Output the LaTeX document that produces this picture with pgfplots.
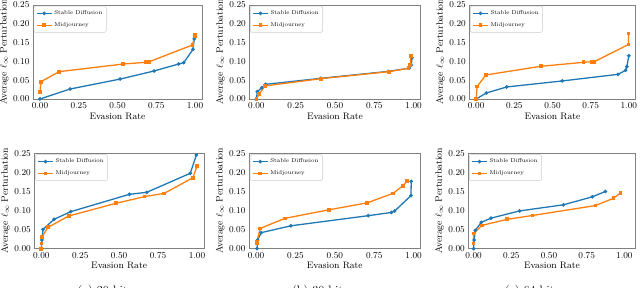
\documentclass[border=0pt]{standalone}
\usepackage{pgfplots}
\pgfplotsset{compat=1.18}
\definecolor{mblue}{HTML}{1F77B4}
\definecolor{morange}{HTML}{FF7F0E}
\definecolor{framegray}{HTML}{808080}
\pgfplotsset{
  myax/.style={
    scale only axis,
    xmin=-0.045, xmax=1.045, ymin=0, ymax=0.25,
    xtick={0,0.25,0.5,0.75,1},
    ytick={0,0.05,0.1,0.15,0.2,0.25},
    major tick length=0pt,
    axis line style={framegray, line width=0.8pt},
    tick label style={font=\fontsize{9.4}{10}\selectfont},
    label style={font=\fontsize{9.4}{10}\selectfont},
    xticklabel style={/pgf/number format/.cd, fixed, fixed zerofill, precision=2},
    yticklabel style={/pgf/number format/.cd, fixed, fixed zerofill, precision=2},
    scaled y ticks=false, scaled x ticks=false,
    xlabel={Evasion Rate},
    ylabel={Average $\ell_\infty$ Perturbation},
    ylabel style={inner sep=1pt},
    xlabel style={inner sep=1pt},
    legend style={at={(0.005,0.99)}, anchor=north west, draw=black!20, rounded corners=1.5pt,
      font=\fontsize{5.6}{6}\selectfont, inner xsep=2pt, inner ysep=2.5pt, row sep=2.4pt, fill=white},
    legend cell align=left,
    legend image code/.code={
      \draw[mark repeat=2,mark phase=2,#1] plot coordinates {(0pt,0pt) (7.5pt,0pt) (15pt,0pt)};
    },
  },
  sd/.style={color=mblue, line width=1.3pt, mark=*, mark size=1.1pt},
  mj/.style={color=morange, line width=1.3pt, mark=square*, mark size=1.2pt},
}
\begin{document}
\begin{tikzpicture}
\useasboundingbox (0,0) rectangle (640pt,288pt);
% ---------- top left
\begin{axis}[myax, at={(33pt,189pt)}, anchor=south west, width=169pt, height=94pt]
\addplot[sd] coordinates {(0,0) (0.195,0.0266) (0.517,0.053) (0.736,0.0745) (0.894,0.093) (0.927,0.0966) (0.987,0.132) (0.995,0.16)};
\addplot[mj] coordinates {(0,0.0195) (0.006,0.046) (0.124,0.0727) (0.537,0.093) (0.683,0.0976) (0.704,0.099) (0.983,0.1436) (0.998,0.166) (0.998,0.171)};
\legend{Stable Diffusion, Midjourney}
\end{axis}
% ---------- top middle
\begin{axis}[myax, at={(249.3pt,189pt)}, anchor=south west, width=171.4pt, height=94pt]
\addplot[sd] coordinates {(0,0) (0.006,0.0195) (0.035,0.03) (0.059,0.039) (0.41,0.055) (0.842,0.0735) (0.972,0.082) (0.985,0.09) (0.99,0.11)};
\addplot[mj] coordinates {(0,0) (0.017,0.0125) (0.053,0.0346) (0.41,0.054) (0.842,0.0727) (0.968,0.0816) (0.979,0.09) (0.983,0.115)};
\legend{Stable Diffusion, Midjourney}
\end{axis}
% ---------- top right
\begin{axis}[myax, at={(469.3pt,189pt)}, anchor=south west, width=166.4pt, height=94pt]
\addplot[sd] coordinates {(0,0) (0.067,0.016) (0.2,0.032) (0.564,0.048) (0.929,0.0656) (0.979,0.0762) (0.987,0.086) (1.0,0.115)};
\addplot[mj] coordinates {(0,0) (0.006,0.033) (0.064,0.064) (0.425,0.087) (0.704,0.0976) (0.757,0.099) (0.773,0.099) (0.998,0.145) (0.998,0.174)};
\legend{Stable Diffusion, Midjourney}
\end{axis}
% ---------- bottom left
\begin{axis}[myax, at={(34.3pt,39.3pt)}, anchor=south west, width=169.7pt, height=95.4pt]
\addplot[sd] coordinates {(0,0) (0.004,0.0227) (0.011,0.0507) (0.082,0.077) (0.189,0.097) (0.566,0.1425) (0.677,0.1477) (0.957,0.1976) (0.996,0.2456)};
\addplot[mj] coordinates {(0,0) (0.002,0.014) (0.004,0.031) (0.043,0.056) (0.176,0.0857) (0.48,0.119) (0.662,0.1364) (0.789,0.145) (0.974,0.186) (1.0,0.217)};
\legend{Stable Diffusion, Midjourney}
\end{axis}
% ---------- bottom middle
\begin{axis}[myax, at={(249pt,39.3pt)}, anchor=south west, width=171.7pt, height=95.4pt]
\addplot[sd] coordinates {(0.006,0) (0.01,0.0227) (0.032,0.042) (0.221,0.06) (0.712,0.0865) (0.859,0.095) (0.88,0.0988) (0.983,0.139) (0.985,0.1766)};
\addplot[mj] coordinates {(0.004,0.014) (0.004,0.018) (0.027,0.0533) (0.183,0.0795) (0.463,0.102) (0.705,0.12) (0.869,0.145) (0.933,0.165) (0.96,0.1775)};
\legend{Stable Diffusion, Midjourney}
\end{axis}
% ---------- bottom right
\begin{axis}[myax, at={(468.3pt,39.3pt)}, anchor=south west, width=167.4pt, height=95.4pt, xmin=-0.035, xmax=1.075]
\addplot[sd] coordinates {(0,0) (0.004,0.0227) (0.011,0.048) (0.051,0.069) (0.115,0.08) (0.305,0.099) (0.596,0.115) (0.788,0.136) (0.874,0.15)};
\addplot[mj] coordinates {(0,0.014) (0,0.04) (0.055,0.061) (0.223,0.077) (0.39,0.087) (0.808,0.113) (0.927,0.132) (0.974,0.146)};
\legend{Stable Diffusion, Midjourney}
\end{axis}
% captions (cut off at the bottom as in the reference)
\node[anchor=north, inner sep=0pt, font=\fontsize{12.3}{13}\selectfont] at (105pt,3pt) {(a) 20 bits};
\node[anchor=north, inner sep=0pt, font=\fontsize{12.3}{13}\selectfont] at (320pt,3pt) {(b) 30 bits};
\node[anchor=north, inner sep=0pt, font=\fontsize{12.3}{13}\selectfont] at (532pt,3pt) {(c) 64 bits};
\end{tikzpicture}
\end{document}
